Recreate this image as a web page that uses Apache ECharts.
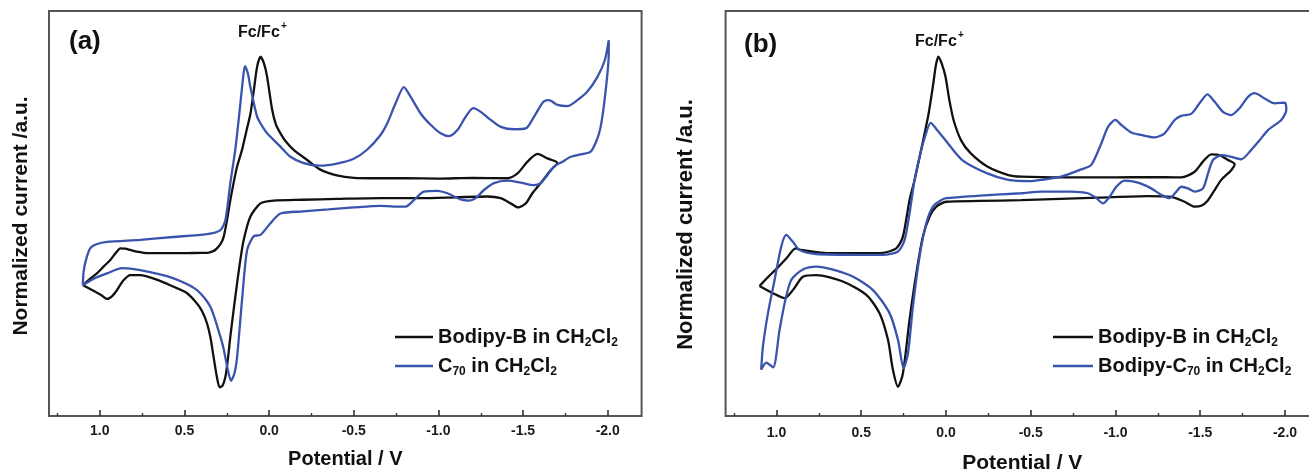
<!DOCTYPE html>
<html>
<head>
<meta charset="UTF-8">
<title>CV</title>
<style>
  html, body { margin: 0; padding: 0; background: #fff; }
  #main { width: 1309px; height: 471px; }
</style>
</head>
<body>
<div id="main"></div>
<script src="https://cdn.jsdelivr.net/npm/echarts@6/dist/echarts.min.js"></script>
<script>
// tick positions (V)
var majorTicks = [1.0, 0.5, 0.0, -0.5, -1.0, -1.5, -2.0];
var minorTicks = [1.25, 0.75, 0.25, -0.25, -0.75, -1.25, -1.75];

// (a) Bodipy-B in CH2Cl2 : potential / normalized current, loop order
var aBlackV = [1.10, 1.06, 1.017, 0.975, 0.938, 0.905, 0.879, 0.85, 0.82, 0.77, 0.72, 0.6, 0.5, 0.4, 0.367, 0.33, 0.308, 0.285, 0.268, 0.248, 0.229, 0.21, 0.189, 0.16, 0.135, 0.11, 0.09, 0.071, 0.051, 0.03, 0.012, -0.018, -0.04, -0.067, -0.1, -0.145, -0.225, -0.3, -0.4, -0.5, -0.658, -0.8, -1.0, -1.2, -1.407, -1.467, -1.526, -1.585, -1.644, -1.703,
  -1.663, -1.604, -1.555, -1.516, -1.47, -1.427, -1.368, -1.289, -1.1, -0.9, -0.658, -0.4, -0.2, -0.027, 0.051, 0.111, 0.15, 0.17, 0.189, 0.21, 0.229, 0.245, 0.258, 0.275, 0.292, 0.31, 0.328, 0.347, 0.367, 0.395, 0.426, 0.49, 0.564, 0.66, 0.761, 0.82, 0.86, 0.9, 0.93, 0.958, 0.99, 1.04, 1.10];
var aBlackI = [32.3, 33.8, 35.2, 37.0, 38.5, 40.3, 41.4, 41.3, 41.0, 40.5, 40.2, 40.2, 40.2, 40.3, 40.3, 40.7, 41.4, 42.6, 44.3, 48.5, 53.3, 57.5, 61.6, 65.7, 70.2, 74.7, 80.5, 86.2, 88.7, 87.0, 83.8, 75.6, 72.0, 69.8, 67.7, 65.7, 63.2, 60.9, 59.4, 58.8, 58.7, 58.7, 58.6, 58.8, 58.7, 59.9, 62.8, 64.7, 63.6, 62.5,
  60.7, 57.5, 55.0, 52.5, 51.5, 52.5, 53.8, 54.2, 54.0, 53.8, 53.8, 53.6, 53.4, 53.2, 52.5, 49.2, 43.5, 38.5, 32.8, 26.0, 19.6, 13.5, 9.7, 7.5, 7.1, 10.0, 14.6, 19.5, 22.9, 25.8, 27.8, 30.5, 31.9, 33.6, 34.8, 34.8, 33.5, 31.0, 29.5, 28.9, 29.8, 31.0, 32.3];

// (a) C70 in CH2Cl2
var aBlueV = [1.10, 1.096, 1.082, 1.057, 1.02, 0.958, 0.761, 0.566, 0.367, 0.288, 0.258, 0.229, 0.2, 0.17, 0.155, 0.143, 0.125, 0.111, 0.071, 0.04, 0.012, -0.067, -0.126, -0.2, -0.3, -0.4, -0.5, -0.58, -0.658, -0.698, -0.747, -0.796, -0.836, -0.895, -0.954, -1.013, -1.062, -1.112, -1.161, -1.206, -1.25, -1.309, -1.368, -1.447, -1.516, -1.565, -1.62, -1.653, -1.703, -1.762, -1.821, -1.88, -1.94, -1.983, -2.006,
  -2.006, -1.979, -1.949, -1.9, -1.841, -1.782, -1.733, -1.683, -1.644, -1.604, -1.565, -1.486, -1.407, -1.328, -1.269, -1.22, -1.18, -1.131, -1.053, -0.993, -0.914, -0.855, -0.806, -0.737, -0.658, -0.5, -0.35, -0.2, -0.067, -0.008, 0.051, 0.091, 0.13, 0.16, 0.189, 0.205, 0.225, 0.248, 0.268, 0.288, 0.347, 0.426, 0.564, 0.761, 0.869, 0.958, 1.04, 1.10];
var aBlueI = [32.3, 35.5, 38.5, 41.4, 42.4, 43.0, 43.5, 44.2, 44.9, 45.9, 48.4, 57.5, 65.7, 77.0, 83.0, 86.4, 84.5, 81.3, 73.9, 71.5, 69.8, 66.5, 64.0, 62.5, 61.8, 62.3, 63.5, 65.8, 69.4, 72.3, 77.2, 81.2, 78.8, 74.7, 71.9, 69.8, 69.1, 70.6, 73.9, 76.0, 75.1, 73.1, 71.4, 70.8, 71.0, 73.9, 77.6, 78.0, 76.8, 76.5, 78.0, 80.1, 83.8, 87.9, 92.8,
  89.6, 77.2, 69.8, 65.3, 64.6, 64.0, 62.8, 61.6, 59.5, 57.5, 57.0, 57.6, 58.1, 57.5, 55.8, 53.8, 53.2, 53.5, 55.0, 55.6, 55.4, 53.3, 51.7, 51.7, 51.9, 51.5, 51.0, 50.5, 50.0, 47.6, 44.7, 44.4, 41.0, 28.6, 14.6, 10.5, 8.7, 12.2, 16.5, 19.6, 27.0, 31.1, 34.0, 36.0, 36.5, 35.2, 33.8, 32.3];

// (b) Bodipy-B in CH2Cl2
var bBlackV = [1.10, 1.05, 0.991, 0.94, 0.887, 0.855, 0.824, 0.706, 0.5, 0.372, 0.293, 0.254, 0.215, 0.185, 0.14, 0.103, 0.075, 0.06, 0.045, 0.025, 0.003, -0.02, -0.046, -0.09, -0.145, -0.244, -0.368, -0.444, -0.7, -1.0, -1.2, -1.388, -1.467, -1.516, -1.565, -1.614, -1.664, -1.703,
  -1.683, -1.624, -1.585, -1.546, -1.506, -1.467, -1.408, -1.329, -1.192, -0.9, -0.444, -0.2, -0.002, 0.057, 0.097, 0.136, 0.175, 0.215, 0.254, 0.283, 0.313, 0.342, 0.392, 0.47, 0.608, 0.765, 0.844, 0.903, 0.952, 1.02, 1.10];
var bBlackI = [32.1, 34.3, 36.7, 39.0, 41.4, 41.0, 40.8, 40.2, 40.2, 40.3, 41.4, 44.3, 53.3, 58.3, 67.0, 74.5, 82.0, 86.5, 88.7, 87.0, 83.8, 78.0, 72.9, 68.0, 64.9, 61.6, 59.5, 59.1, 58.9, 58.9, 59.0, 58.9, 60.3, 62.8, 64.6, 64.4, 63.2, 62.2,
  60.7, 58.3, 55.8, 53.3, 51.9, 51.7, 52.9, 54.1, 54.3, 53.9, 53.3, 53.1, 52.9, 51.7, 49.2, 44.3, 35.2, 23.7, 10.5, 7.2, 11.4, 18.8, 25.4, 29.9, 33.2, 34.8, 34.4, 31.1, 29.1, 30.3, 32.1];

// (b) Bodipy-C70 in CH2Cl2
var bBlueV = [1.09, 1.08, 1.05, 1.011, 0.972, 0.942, 0.903, 0.864, 0.765, 0.5, 0.372, 0.283, 0.244, 0.215, 0.185, 0.15, 0.127, 0.09, 0.05, 0.003, -0.096, -0.244, -0.368, -0.493, -0.562, -0.68, -0.798, -0.857, -0.916, -0.956, -0.999, -1.034, -1.093, -1.152, -1.231, -1.29, -1.349, -1.388, -1.447, -1.496, -1.542, -1.585, -1.634, -1.683, -1.732, -1.782, -1.821, -1.88, -1.939, -1.998,
  -2.008, -1.978, -1.9, -1.85, -1.801, -1.742, -1.683, -1.624, -1.575, -1.546, -1.516, -1.467, -1.428, -1.388, -1.359, -1.319, -1.27, -1.211, -1.133, -1.054, -1.005, -0.965, -0.926, -0.887, -0.838, -0.739, -0.562, -0.444, -0.2, -0.002, 0.028, 0.077, 0.116, 0.156, 0.195, 0.224, 0.25, 0.283, 0.333, 0.431, 0.569, 0.765, 0.844, 0.913, 0.952, 0.982, 1.02, 1.06, 1.09];
var bBlueI = [11.4, 17.1, 25.4, 33.6, 41.8, 44.7, 43.0, 41.0, 40.0, 39.8, 39.8, 40.6, 43.5, 50.0, 58.3, 65.0, 68.5, 72.4, 70.5, 68.1, 63.2, 59.9, 58.3, 58.0, 58.3, 59.1, 60.9, 62.0, 67.3, 71.4, 73.1, 71.9, 70.0, 69.4, 68.8, 69.8, 73.1, 74.1, 74.6, 77.2, 79.4, 77.6, 75.1, 74.3, 76.0, 78.8, 79.7, 78.4, 77.2, 77.4,
  75.6, 73.1, 70.6, 68.1, 65.7, 63.4, 64.0, 64.4, 63.2, 59.9, 56.2, 55.4, 56.2, 56.6, 55.4, 53.8, 54.6, 56.2, 57.6, 58.1, 56.6, 54.1, 52.5, 53.8, 55.0, 55.4, 55.4, 55.0, 54.4, 53.8, 53.3, 51.7, 47.6, 39.3, 27.0, 15.5, 11.8, 18.8, 25.4, 31.1, 34.8, 36.9, 36.2, 33.6, 27.8, 21.2, 12.0, 13.2, 11.4];

var legendText = {
  aBlack: '{n|Bodipy-B in CH}{s|2}{n|Cl}{s|2}',
  aBlue: '{n|C}{s|70}{n| in CH}{s|2}{n|Cl}{s|2}',
  bBlack: '{n|Bodipy-B in CH}{s|2}{n|Cl}{s|2}',
  bBlue: '{n|Bodipy-C}{s|70}{n| in CH}{s|2}{n|Cl}{s|2}'
};

var FONT = 'Liberation Sans, Arial, sans-serif';
var BLUE = '#3a54ae';
var BLACK = '#111111';

function pairs(v, c) {
  return v.map(function (x, i) { return [x, c[i]]; });
}

var richText = {
  n: { fontSize: 20, fontWeight: 'bold', fontFamily: FONT, color: '#111', lineHeight: 24 },
  s: { fontSize: 12, fontWeight: 'bold', fontFamily: FONT, color: '#111', lineHeight: 10, verticalAlign: 'bottom' }
};

// axis carrying labels, major ticks and the name
function xMain(grid, gap, labelMargin, nameSize) {
  return {
    type: 'value', gridIndex: grid, position: 'bottom', min: -2.2, max: 1.3, inverse: true,
    axisLine: { show: false },
    axisTick: { show: true, inside: true, length: 6, customValues: majorTicks.slice(), lineStyle: { color: '#333', width: 1.6 } },
    axisLabel: {
      customValues: majorTicks.slice(), margin: labelMargin, fontSize: 14, fontWeight: 'bold', fontFamily: FONT, color: '#1a1a1a',
      formatter: function (v) { return v.toFixed(1); }
    },
    splitLine: { show: false },
    name: 'Potential / V', nameLocation: 'middle', nameGap: gap,
    nameTextStyle: { fontSize: nameSize, fontWeight: 'bold', fontFamily: FONT, color: '#111' }
  };
}

// axis carrying only the minor tick marks
function xMinor(grid) {
  return {
    type: 'value', gridIndex: grid, position: 'bottom', min: -2.2, max: 1.3, inverse: true,
    axisLine: { show: false },
    axisTick: { show: true, inside: true, length: 3, customValues: minorTicks.slice(), lineStyle: { color: '#333', width: 1.4 } },
    axisLabel: { show: false },
    splitLine: { show: false }
  };
}

function yAxis(grid, gap, size, pad) {
  return {
    type: 'value', gridIndex: grid, min: 0, max: 100,
    axisLine: { show: false }, axisTick: { show: false }, axisLabel: { show: false }, splitLine: { show: false },
    name: 'Normalized current /a.u.', nameLocation: 'middle', nameGap: gap,
    nameTextStyle: { fontSize: size, fontWeight: 'bold', fontFamily: FONT, color: '#111', padding: pad }
  };
}

function curve(name, v, c, color, xi, yi) {
  return {
    name: name, type: 'line', xAxisIndex: xi, yAxisIndex: yi,
    data: pairs(v, c), symbol: 'none', smooth: 0.25, animation: false,
    lineStyle: { color: color, width: 2.3 }, itemStyle: { color: color }
  };
}

function legendFor(left, width, names) {
  return {
    left: left, top: 327, orient: 'vertical', padding: 0,
    icon: 'rect', itemWidth: width, itemHeight: 2.5, itemGap: 7,
    data: names, selectedMode: false,
    formatter: function (n) { return legendText[n]; },
    textStyle: { rich: richText }
  };
}

var chart = echarts.init(document.getElementById('main'), null, { renderer: 'canvas' });

var option = {
  backgroundColor: '#fff',
  animation: false,
  grid: [
    { left: 49, top: 11, width: 592.6, height: 405, show: true, borderColor: '#555', borderWidth: 2, backgroundColor: 'transparent', outerBoundsMode: 'none' },
    { left: 725.6, top: 11, width: 593.3, height: 405, show: true, borderColor: '#555', borderWidth: 2, backgroundColor: 'transparent', outerBoundsMode: 'none' }
  ],
  xAxis: [xMain(0, 33, 8, 20), xMinor(0), xMain(1, 37, 10, 21), xMinor(1)],
  yAxis: [yAxis(0, 17, 21, [0, 5, 0, 0]), yAxis(1, 29, 22, [0, 22, 0, 0])],
  legend: [
    legendFor(395, 38, ['aBlack', 'aBlue']),
    legendFor(1053, 40, ['bBlack', 'bBlue'])
  ],
  graphic: [
    { type: 'text', left: 69, top: 29, style: { text: '(a)', font: 'bold 26px ' + FONT, fill: '#111' } },
    { type: 'text', left: 744, top: 32, style: { text: '(b)', font: 'bold 26px ' + FONT, fill: '#111' } },
    { type: 'text', left: 238, top: 25, style: { text: 'Fc/Fc', font: 'bold 16px ' + FONT, fill: '#111' } },
    { type: 'text', left: 281, top: 21, style: { text: '+', font: 'bold 10px ' + FONT, fill: '#111' } },
    { type: 'text', left: 915, top: 34, style: { text: 'Fc/Fc', font: 'bold 16px ' + FONT, fill: '#111' } },
    { type: 'text', left: 958, top: 30, style: { text: '+', font: 'bold 10px ' + FONT, fill: '#111' } }
  ],
  series: [
    curve('aBlack', aBlackV, aBlackI, BLACK, 0, 0),
    curve('aBlue', aBlueV, aBlueI, BLUE, 0, 0),
    curve('bBlack', bBlackV, bBlackI, BLACK, 2, 1),
    curve('bBlue', bBlueV, bBlueI, BLUE, 2, 1)
  ]
};

chart.setOption(option);
</script>
</body>
</html>
